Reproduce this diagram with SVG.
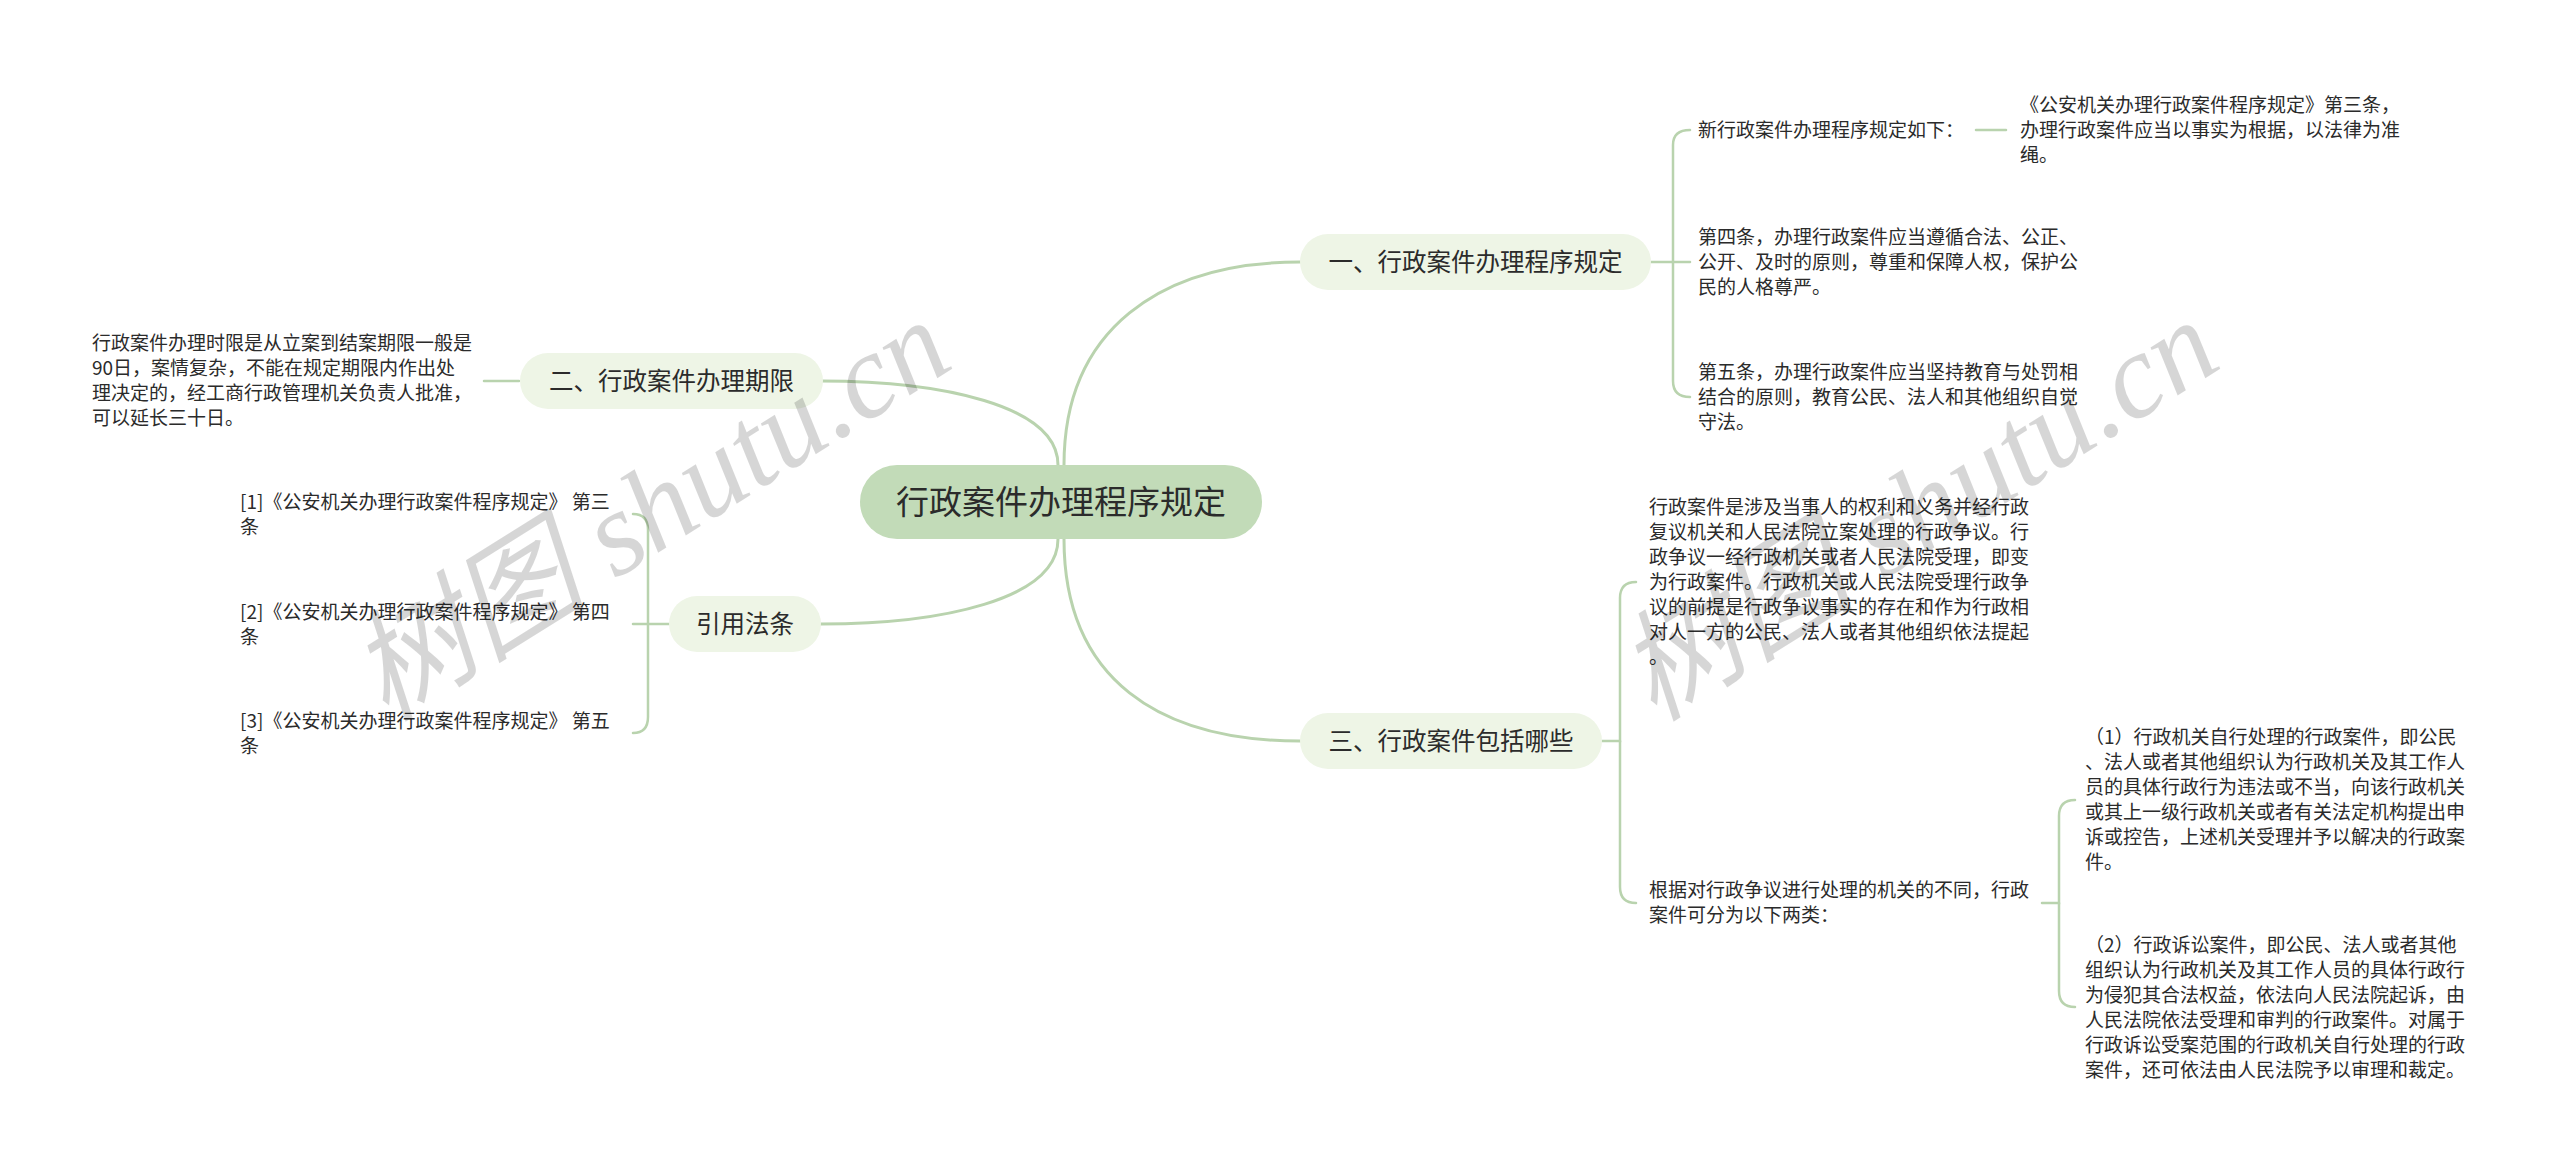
<svg xmlns="http://www.w3.org/2000/svg" width="2560" height="1173" viewBox="0 0 2560 1173">
<style>
  .ln{fill:none;stroke:#b9d3ae;stroke-width:3;stroke-linecap:round}
  .br{fill:none;stroke:#b9d3ae;stroke-width:2.5;stroke-linecap:round}
  .t{font-family:"Noto Sans CJK SC","Noto Sans",sans-serif;fill:#2b2b2b}
  .leaf{font-size:19px}
  .l1{font-size:24.5px;text-anchor:middle}
  .root{font-size:33px;text-anchor:middle}
  .n1{fill:#eef5e6}
  .n0{fill:#c2dbb8}
  .wm{font-family:"Liberation Serif","Noto Sans CJK SC",serif;font-style:italic;font-size:120px;fill:#000;fill-opacity:0.16;text-anchor:middle;dominant-baseline:central}
</style>
<rect width="2560" height="1173" fill="#ffffff"/>
<g id="connectors">
  <path class="ln" d="M1064 465 C1064 330 1160 262 1300 262"/>
  <path class="ln" d="M1058 465 C1058 405 940 381 821 381"/>
  <path class="ln" d="M1058 539 C1058 600 940 624 821 624"/>
  <path class="ln" d="M1064 539 C1064 680 1160 741 1300 741"/>
  <!-- node 1 bracket -->
  <path class="br" d="M1651 262 H1690"/>
  <path class="br" d="M1673 262 V145 Q1673 130 1690 130"/>
  <path class="br" d="M1673 262 V381 Q1673 397 1690 397"/>
  <path class="br" d="M1976 130 H2006"/>
  <!-- node 3 bracket -->
  <path class="br" d="M1602 741 H1620 V598 Q1620 582 1636 582"/>
  <path class="br" d="M1620 741 V887 Q1620 903 1636 903"/>
  <path class="br" d="M2042 903 H2059 V816 Q2059 800 2075 800"/>
  <path class="br" d="M2059 903 V991 Q2059 1007 2075 1007"/>
  <!-- node 2 -->
  <path class="br" d="M519 381 H484"/>
  <!-- citations -->
  <path class="br" d="M669 624 H633"/>
  <path class="br" d="M648 624 V530 Q648 514 633 514"/>
  <path class="br" d="M648 624 V717 Q648 733 633 733"/>
</g>
<g id="root">
  <rect class="n0" x="860" y="465" width="402" height="74" rx="37"/>
  <text class="t root" x="1061" y="514">行政案件办理程序规定</text>
</g>
<g id="n1">
  <rect class="n1" x="1300" y="234" width="351" height="56" rx="28"/>
  <text class="t l1" x="1475.5" y="271">一、行政案件办理程序规定</text>
</g>
<g id="n2">
  <rect class="n1" x="520" y="353" width="303" height="56" rx="28"/>
  <text class="t l1" x="671.5" y="390">二、行政案件办理期限</text>
</g>
<g id="n3">
  <rect class="n1" x="669" y="596" width="152" height="56" rx="28"/>
  <text class="t l1" x="745" y="633">引用法条</text>
</g>
<g id="n4">
  <rect class="n1" x="1300" y="713" width="302" height="56" rx="28"/>
  <text class="t l1" x="1451" y="750">三、行政案件包括哪些</text>
</g>
<g id="n1a">
  <text class="t leaf" x="1698" y="137">新行政案件办理程序规定如下：</text>
</g>
<g id="n1a1">
  <text class="t leaf" x="2020"><tspan x="2020" y="112">《公安机关办理行政案件程序规定》第三条，</tspan><tspan x="2020" y="137">办理行政案件应当以事实为根据，以法律为准</tspan><tspan x="2020" y="162">绳。</tspan></text>
</g>
<g id="n1b">
  <text class="t leaf"><tspan x="1698" y="244">第四条，办理行政案件应当遵循合法、公正、</tspan><tspan x="1698" y="269">公开、及时的原则，尊重和保障人权，保护公</tspan><tspan x="1698" y="294">民的人格尊严。</tspan></text>
</g>
<g id="n1c">
  <text class="t leaf"><tspan x="1698" y="379">第五条，办理行政案件应当坚持教育与处罚相</tspan><tspan x="1698" y="404">结合的原则，教育公民、法人和其他组织自觉</tspan><tspan x="1698" y="429">守法。</tspan></text>
</g>
<g id="n2a">
  <text class="t leaf"><tspan x="92" y="350">行政案件办理时限是从立案到结案期限一般是</tspan><tspan x="92" y="375">90日，案情复杂，不能在规定期限内作出处</tspan><tspan x="92" y="400">理决定的，经工商行政管理机关负责人批准，</tspan><tspan x="92" y="425">可以延长三十日。</tspan></text>
</g>
<g id="n3a">
  <text class="t leaf"><tspan x="240" y="509">[1]《公安机关办理行政案件程序规定》 第三</tspan><tspan x="240" y="534">条</tspan></text>
</g>
<g id="n3b">
  <text class="t leaf"><tspan x="240" y="619">[2]《公安机关办理行政案件程序规定》 第四</tspan><tspan x="240" y="644">条</tspan></text>
</g>
<g id="n3c">
  <text class="t leaf"><tspan x="240" y="728">[3]《公安机关办理行政案件程序规定》 第五</tspan><tspan x="240" y="753">条</tspan></text>
</g>
<g id="n4a">
  <text class="t leaf"><tspan x="1649" y="514">行政案件是涉及当事人的权利和义务并经行政</tspan><tspan x="1649" y="539">复议机关和人民法院立案处理的行政争议。行</tspan><tspan x="1649" y="564">政争议一经行政机关或者人民法院受理，即变</tspan><tspan x="1649" y="589">为行政案件。行政机关或人民法院受理行政争</tspan><tspan x="1649" y="614">议的前提是行政争议事实的存在和作为行政相</tspan><tspan x="1649" y="639">对人一方的公民、法人或者其他组织依法提起</tspan><tspan x="1649" y="664">。</tspan></text>
</g>
<g id="n4b">
  <text class="t leaf"><tspan x="1649" y="897">根据对行政争议进行处理的机关的不同，行政</tspan><tspan x="1649" y="922">案件可分为以下两类：</tspan></text>
</g>
<g id="n4b1">
  <text class="t leaf"><tspan x="2085" y="744">（1）行政机关自行处理的行政案件，即公民</tspan><tspan x="2085" y="769">、法人或者其他组织认为行政机关及其工作人</tspan><tspan x="2085" y="794">员的具体行政行为违法或不当，向该行政机关</tspan><tspan x="2085" y="819">或其上一级行政机关或者有关法定机构提出申</tspan><tspan x="2085" y="844">诉或控告，上述机关受理并予以解决的行政案</tspan><tspan x="2085" y="869">件。</tspan></text>
</g>
<g id="n4b2">
  <text class="t leaf"><tspan x="2085" y="952">（2）行政诉讼案件，即公民、法人或者其他</tspan><tspan x="2085" y="977">组织认为行政机关及其工作人员的具体行政行</tspan><tspan x="2085" y="1002">为侵犯其合法权益，依法向人民法院起诉，由</tspan><tspan x="2085" y="1027">人民法院依法受理和审判的行政案件。对属于</tspan><tspan x="2085" y="1052">行政诉讼受案范围的行政机关自行处理的行政</tspan><tspan x="2085" y="1077">案件，还可依法由人民法院予以审理和裁定。</tspan></text>
</g>
<g id="watermark">
  <text class="wm" x="650" y="510" transform="rotate(-32 650 510)">树图 shutu.cn</text>
  <text class="wm" x="1918" y="510" transform="rotate(-32 1918 510)">树图 shutu.cn</text>
</g>
</svg>
